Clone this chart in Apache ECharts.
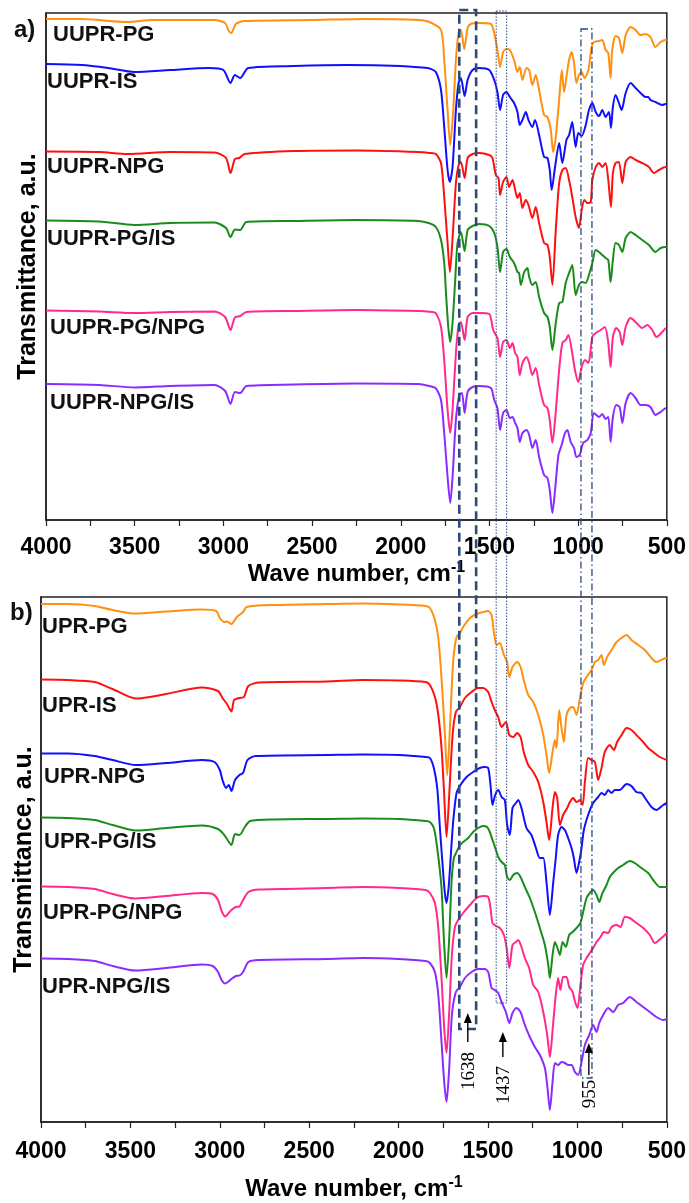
<!DOCTYPE html>
<html>
<head>
<meta charset="utf-8">
<title>FTIR spectra</title>
<script src="https://cdn.jsdelivr.net/npm/echarts@6/dist/echarts.min.js"></script>
<style>
  html, body { margin: 0; padding: 0; background: #fff; }
  #chart { width: 689px; height: 1203px; }
</style>
</head>
<body>
<div id="chart"></div>
<script>
// tick labels of the wave number axis
var xTickLabels = [4000, 3500, 3000, 2500, 2000, 1500, 1000, 500];

// panel a) [wave number, transmittance a.u. incl. offset]
var uuprPG = [[4000,501],[3800,501],[3544,498],[3400,500],[3050,500],[2990,497],[2970,489],[2955,487],[2930,496],[2880,499],[2500,500],[2200,501],[1900,500],[1839,498],
  [1773,490],[1755,460],[1736,410],[1721,375],[1704,410],[1689,460],[1674,487],[1661,490],[1642,471],[1623,492],[1605,496],[1558,497],[1492,496],[1473,487],[1455,470],[1440,453],[1423,468],[1404,471],[1385,470],[1361,460],[1342,448],[1329,453],[1314,440],[1291,452],[1276,450],[1258,435],[1239,445],[1220,430],[1192,405],[1173,403],[1154,390],[1141,368],[1126,383],[1107,420],[1092,450],[1079,428],[1066,443],[1051,460],[1036,468],[1023,457],[1010,437],[995,445],[980,448],[965,442],[942,450],[924,473],[911,478],[882,479],[864,480],[845,470],[830,467],[817,442],[808,470],[789,484],[770,482],[751,467],[732,485],[704,493],[676,490],[648,485],[620,486],[592,483],[564,473],[535,478],[507,480],[500,480]];
var uuprIS = [[4000,456],[3800,455],[3650,452],[3500,448],[3300,450],[3080,452],[3000,450],[2960,437],[2935,445],[2905,442],[2860,452],[2600,454],[2300,455],[2000,454],[1850,452],
  [1839,451.7],[1802,448],[1773,430],[1755,393],[1736,350],[1723,338],[1708,353],[1689,410],[1674,437],[1661,442],[1640,424],[1623,440],[1595,450],[1558,452],[1501,450],[1473,440],[1455,428],[1440,410],[1423,425],[1404,428],[1385,423],[1361,417],[1342,408],[1329,395],[1314,400],[1295,408],[1280,400],[1258,393],[1243,400],[1220,385],[1192,363],[1173,362],[1160,350],[1149,330],[1130,353],[1107,377],[1089,357],[1066,380],[1051,385],[1033,398],[1014,373],[999,387],[980,384],[957,395],[939,410],[920,417],[901,408],[882,404],[864,410],[845,403],[826,408],[815,392],[804,413],[789,425],[770,417],[755,410],[732,427],[704,437],[676,432],[648,427],[620,423],[605,423],[592,420],[564,418],[526,415],[507,416],[500,416]];
var uuprNPG = [[4000,368.5],[3700,368],[3540,366],[3300,368],[3050,367.5],[2985,362],[2960,347],[2935,361],[2910,362],[2880,366],[2600,369],[2250,369.5],[1900,368],
  [1839,367],[1802,366],[1773,357],[1755,323],[1736,277],[1723,248],[1704,293],[1689,337],[1674,355],[1661,358],[1640,342],[1623,362],[1595,366],[1558,367],[1501,365],[1483,362],[1464,345],[1449,342],[1440,325],[1423,338],[1404,343],[1389,333],[1370,340],[1355,330],[1342,322],[1329,327],[1314,312],[1295,320],[1280,315],[1258,302],[1239,313],[1220,297],[1192,277],[1173,275],[1160,263],[1145,235],[1126,290],[1107,337],[1089,350],[1070,352],[1051,340],[1033,323],[1014,303],[995,292],[980,310],[965,320],[948,317],[929,318],[920,340],[901,353],[882,357],[864,353],[845,357],[830,340],[815,313],[804,347],[789,357],[770,358],[751,337],[732,358],[704,363],[676,360],[639,357],[601,353],[573,347],[545,350],[507,353],[500,353]];
var uuprPGIS = [[4000,299.5],[3700,298.5],[3500,295],[3300,297],[3050,297.5],[2985,292],[2960,283],[2935,290.5],[2905,290],[2870,298],[2600,299],[2250,300],[1900,299],
  [1839,296.7],[1802,293],[1773,280],[1755,257],[1745,227],[1732,193],[1721,178],[1708,197],[1693,240],[1680,277],[1661,288],[1640,269],[1623,290],[1595,294],[1558,296],[1501,294],[1473,287],[1455,273],[1440,248],[1423,268],[1404,271],[1385,263],[1361,257],[1342,248],[1333,247],[1323,235],[1304,248],[1286,252],[1276,243],[1258,235],[1239,238],[1220,223],[1192,207],[1173,203],[1160,193],[1145,170],[1126,197],[1107,217],[1089,218],[1070,237],[1051,247],[1033,255],[1014,225],[995,235],[976,238],[957,237],[939,245],[920,257],[901,270],[882,268],[864,265],[845,262],[830,260],[817,238],[804,260],[789,277],[770,275],[751,268],[732,282],[704,288],[676,285],[639,280],[601,275],[564,268],[535,272],[507,273],[500,273]];
var uuprPGNPG = [[4000,209.5],[3700,208.5],[3500,207],[3300,208],[3050,208.5],[2990,203],[2960,190],[2935,202.5],[2905,204],[2870,208],[2600,209],[2250,210],[1900,209],
  [1839,208.3],[1802,206.7],[1773,193],[1755,160],[1736,110],[1721,87],[1708,110],[1689,167],[1674,195],[1661,198],[1640,180],[1623,203],[1595,207],[1558,207],[1501,206],[1479,190],[1455,182],[1440,163],[1423,178],[1404,180],[1385,172],[1370,177],[1355,167],[1342,163],[1329,145],[1314,157],[1291,163],[1276,157],[1258,145],[1239,152],[1220,135],[1192,115],[1173,112],[1160,100],[1145,77],[1130,100],[1107,150],[1089,177],[1070,180],[1055,185],[1036,170],[1018,150],[999,138],[980,153],[961,160],[942,157],[920,183],[901,187],[873,190],[849,193],[830,177],[817,153],[804,183],[785,192],[766,188],[751,175],[732,193],[704,202],[676,198],[639,192],[610,195],[582,190],[558,183],[526,188],[503,192],[500,192]];
var uuprNPGIS = [[4000,136],[3700,135],[3500,132.5],[3300,134],[3050,135],[2990,129],[2960,116],[2935,128],[2905,127],[2870,134],[2600,135.5],[2250,136.5],[1900,136],
  [1839,134],[1802,131.7],[1773,120],[1755,87],[1736,43],[1721,17],[1708,43],[1689,100],[1670,125],[1655,127],[1640,107],[1623,128],[1595,133],[1558,134],[1492,132],[1473,120],[1455,112],[1440,90],[1423,107],[1404,110],[1385,102],[1370,103],[1355,97],[1342,92],[1329,78],[1314,87],[1291,90],[1276,85],[1258,72],[1239,80],[1220,63],[1192,45],[1173,42],[1160,30],[1145,7],[1130,30],[1111,65],[1093,75],[1074,87],[1061,90],[1042,78],[1023,72],[1010,63],[991,65],[972,77],[948,80],[929,87],[911,107],[882,103],[864,106],[845,101],[830,103],[817,78],[804,103],[785,115],[766,113],[751,97],[732,117],[704,127],[676,122],[648,115],[620,115],[592,113],[564,105],[535,108],[503,112],[500,112]];

// panel b)
var uprPG = [[4000,518],[3850,518],[3700,516],[3600,512],[3470,508.5],[3300,510.5],[3100,512.5],[3020,511],[3000,504],[2975,500],[2960,500.5],[2935,498],[2905,505],[2870,510],[2850,515],[2700,517],[2400,518],[2200,518.5],[2000,517.5],[1850,516],
  [1825,514],[1797,502],[1778,484],[1760,444],[1741,387],[1728,347],[1713,394],[1695,460],[1676,485],[1657,489],[1639,495],[1601,504],[1564,508],[1527,510],[1499,511],[1480,507],[1467,490],[1452,477],[1434,479],[1411,467],[1393,460],[1381,445],[1363,455],[1337,460],[1318,455],[1300,442],[1275,427],[1247,420],[1219,407],[1191,387],[1173,367],[1158,349],[1139,370],[1126,382],[1117,374],[1102,412],[1089,394],[1076,380],[1061,407],[1042,414],[1024,415],[1005,407],[986,424],[968,439],[949,445],[921,452],[902,460],[884,462],[865,467],[852,457],[834,465],[809,472],[781,480],[753,484],[725,487],[698,482],[660,477],[623,472],[586,464],[558,460],[520,463],[500,464]];
var uprIS = [[4000,442.5],[3850,442],[3700,440],[3600,433],[3470,423.5],[3300,428],[3100,434.5],[3010,431],[2985,424],[2960,418],[2935,410.5],[2920,422],[2890,424],[2865,425],[2840,436],[2780,439.5],[2400,440.5],[2200,442],[2000,441.5],[1850,440],
  [1825,437],[1797,425],[1778,407],[1760,374],[1747,334],[1732,285],[1717,327],[1698,387],[1680,410],[1657,415],[1629,424],[1592,430],[1555,434],[1527,434],[1499,430],[1480,420],[1462,412],[1443,405],[1424,395],[1400,400],[1381,387],[1359,385],[1337,389],[1318,385],[1300,370],[1275,357],[1247,350],[1219,340],[1191,320],[1173,300],[1158,282],[1139,314],[1126,330],[1113,324],[1098,297],[1080,307],[1057,314],[1042,320],[1024,324],[1005,320],[986,322],[971,317],[958,340],[940,364],[921,362],[902,360],[884,342],[865,354],[847,370],[819,377],[796,372],[778,380],[753,387],[725,394],[698,392],[670,387],[632,380],[604,374],[576,370],[539,365],[500,362]];
var uprNPG = [[4000,368.5],[3850,368.5],[3700,366],[3600,362],[3470,357],[3300,359],[3100,362],[3030,360],[3000,352],[2985,342],[2965,334],[2950,337],[2935,331],[2915,342],[2890,347],[2870,349],[2845,362],[2800,366],[2400,367],[2200,367.5],[2000,367],[1850,365],
  [1825,364],[1803,354],[1784,334],[1769,294],[1756,262],[1742,230],[1732,219],[1720,235],[1709,264],[1695,300],[1676,329],[1654,337],[1620,345],[1583,350],[1546,354],[1518,355],[1499,354],[1486,337],[1475,317],[1460,327],[1443,332],[1424,325],[1406,322],[1393,297],[1378,287],[1363,314],[1344,319],[1331,322],[1313,314],[1285,294],[1257,287],[1232,274],[1210,264],[1191,264],[1173,240],[1154,207],[1135,240],[1121,264],[1108,287],[1089,295],[1070,292],[1052,284],[1033,274],[1020,264],[1005,249],[990,260],[977,274],[964,292],[940,307],[912,319],[884,325],[865,329],[847,327],[828,332],[809,329],[791,332],[763,332],[725,338],[698,336],[670,330],[642,329],[614,322],[586,315],[558,312],[520,317],[500,319]];
var uprPGIS = [[4000,304.5],[3850,304],[3700,302],[3600,297],[3470,291.5],[3300,294],[3100,296.5],[3010,293],[2975,287],[2960,283],[2935,277],[2915,288],[2890,287],[2860,295],[2830,301],[2700,302.5],[2400,303],[2200,303.5],[2000,303],[1850,301],
  [1825,300],[1803,294],[1784,274],[1760,234],[1747,184],[1732,144],[1717,184],[1704,240],[1691,264],[1676,270],[1657,277],[1639,280],[1611,284],[1583,290],[1555,294],[1527,296],[1505,295],[1490,290],[1471,280],[1452,270],[1443,265],[1424,260],[1406,257],[1393,245],[1378,242],[1359,247],[1337,249],[1318,245],[1294,235],[1266,224],[1238,210],[1210,194],[1182,177],[1163,157],[1154,144],[1139,167],[1126,180],[1113,175],[1098,167],[1083,180],[1065,175],[1046,187],[1027,190],[1005,194],[983,199],[968,210],[949,224],[931,229],[912,232],[893,227],[878,220],[860,229],[837,237],[819,245],[796,250],[772,254],[744,257],[707,261],[679,259],[642,254],[604,249],[576,242],[539,235],[500,235]];
var uprPGNPG = [[4000,235.5],[3850,235],[3700,233],[3600,228],[3470,223.5],[3300,226],[3100,229],[3040,228],[3010,222],[2990,211],[2970,205.5],[2955,208],[2935,212],[2910,215],[2890,215.5],[2870,222],[2840,230],[2780,232.5],[2400,234],[2200,235],[2000,234],[1850,232],
  [1825,229],[1797,219],[1778,194],[1760,144],[1745,94],[1732,69],[1717,110],[1702,167],[1685,195],[1667,202],[1639,209],[1601,217],[1564,224],[1527,226],[1499,225],[1486,214],[1475,199],[1456,196],[1434,194],[1411,187],[1396,174],[1381,154],[1363,177],[1344,180],[1331,182],[1313,175],[1294,164],[1270,154],[1247,137],[1219,130],[1191,110],[1169,87],[1154,65],[1135,100],[1121,127],[1108,144],[1095,132],[1080,145],[1061,145],[1046,135],[1027,130],[1013,120],[999,114],[983,137],[968,157],[949,164],[931,169],[912,174],[893,180],[871,185],[852,190],[828,189],[809,195],[781,197],[759,195],[735,205],[707,204],[670,199],[632,194],[595,187],[567,179],[530,184],[500,189]];
var uprNPGIS = [[4000,163.5],[3850,163],[3700,161],[3600,156],[3470,151.5],[3300,154],[3100,157.5],[3040,156],[3010,150],[2990,142],[2970,138.5],[2955,140],[2935,143],[2910,146],[2890,146.5],[2870,150],[2840,160],[2780,162],[2400,163],[2200,164],[2000,163],[1850,161],
  [1825,159],[1797,150],[1778,127],[1760,80],[1745,40],[1732,20],[1717,54],[1702,107],[1680,130],[1657,135],[1629,144],[1592,150],[1555,153],[1518,153],[1499,150],[1480,134],[1462,132],[1443,129],[1424,120],[1400,110],[1381,99],[1363,109],[1340,114],[1318,110],[1294,97],[1266,85],[1238,75],[1210,67],[1182,54],[1169,37],[1154,12],[1139,40],[1126,59],[1108,57],[1089,60],[1070,59],[1052,57],[1033,57],[1014,50],[996,47],[977,60],[958,77],[934,87],[912,97],[893,90],[878,99],[856,107],[828,114],[800,110],[772,117],[744,119],[707,125],[670,120],[632,115],[595,110],[558,105],[520,102],[500,103]];

var namesA = ['UUPR-PG', 'UUPR-IS', 'UUPR-NPG', 'UUPR-PG/IS', 'UUPR-PG/NPG', 'UUPR-NPG/IS'];
var namesB = ['UPR-PG', 'UPR-IS', 'UPR-NPG', 'UPR-PG/IS', 'UPR-PG/NPG', 'UPR-NPG/IS'];
var colorsA = ['#ff9010', '#1010ff', '#ff1010', '#1a8c1a', '#ff2a8a', '#8a2cff'];
var colorsB = ['#ff9010', '#ff1010', '#1010ff', '#1a8c1a', '#ff2a8a', '#8a2cff'];

// highlighted bands (wave numbers read on panel a), marked peaks (read on panel b)
var bandEdges = [[1670, 1575], [1462, 1403], [984, 922]];
var peakLabels = ['1638', '1437', '955'];
var peakArrowWave = [1613, 1417, 936];

var FONT = 'Liberation Sans, Arial, sans-serif';
var chart = echarts.init(document.getElementById('chart'));

function xAxisOf(i, margin, gap) {
  return {
    gridIndex: i, type: 'value', min: 500, max: 4000, interval: 250, inverse: true,
    axisLine: { lineStyle: { color: '#222', width: 1.5 } },
    axisTick: { inside: false, length: 6, lineStyle: { color: '#222', width: 1.2 } },
    axisLabel: {
      margin: margin, color: '#000', fontSize: 23, fontWeight: 'bold', fontFamily: FONT,
      formatter: function (v) { return xTickLabels.indexOf(v) >= 0 ? String(v) : ''; }
    },
    splitLine: { show: false },
    name: '{t|Wave number, cm}{s|-1}', nameLocation: 'middle', nameGap: gap,
    nameTextStyle: {
      rich: {
        t: { fontSize: 24, fontWeight: 'bold', color: '#000', fontFamily: FONT, lineHeight: 28 },
        s: { fontSize: 16, fontWeight: 'bold', color: '#000', fontFamily: FONT, verticalAlign: 'top', lineHeight: 16 }
      }
    }
  };
}
function yAxisOf(i, max, gap) {
  return {
    gridIndex: i, type: 'value', min: 0, max: max,
    axisLine: { show: true, lineStyle: { color: '#222', width: 1.5 } },
    axisTick: { show: false }, axisLabel: { show: false }, splitLine: { show: false },
    name: 'Transmittance, a.u.', nameLocation: 'middle', nameGap: gap,
    nameTextStyle: { fontSize: 25, fontWeight: 'bold', color: '#000', fontFamily: FONT }
  };
}

var seriesA = [uuprPG, uuprIS, uuprNPG, uuprPGIS, uuprPGNPG, uuprNPGIS];
var seriesB = [uprPG, uprIS, uprNPG, uprPGIS, uprPGNPG, uprNPGIS];
var series = [];
seriesA.forEach(function (d, k) {
  series.push({ name: namesA[k], type: 'line', xAxisIndex: 0, yAxisIndex: 0, data: d,
    showSymbol: false, smooth: 0.25, lineStyle: { width: 2, color: colorsA[k] }, itemStyle: { color: colorsA[k] } });
});
seriesB.forEach(function (d, k) {
  series.push({ name: namesB[k], type: 'line', xAxisIndex: 1, yAxisIndex: 1, data: d,
    showSymbol: false, smooth: 0.25, lineStyle: { width: 2, color: colorsB[k] }, itemStyle: { color: colorsB[k] } });
});

chart.setOption({
  animation: false,
  backgroundColor: '#fff',
  grid: [
    { left: 46, top: 13, width: 622, height: 507, show: true, borderColor: '#222', borderWidth: 1.5 },
    { left: 41, top: 597, width: 626, height: 525, show: true, borderColor: '#222', borderWidth: 1.5 }
  ],
  xAxis: [xAxisOf(0, 16, 40), xAxisOf(1, 18, 53)],
  yAxis: [yAxisOf(0, 507, 5), yAxisOf(1, 525, 4)],
  series: series
});

// annotations: positioned through the axes
function pa(w, v) { return chart.convertToPixel({ gridIndex: 0 }, [w, v]); }
function pb(w, v) { return chart.convertToPixel({ gridIndex: 1 }, [w, v]); }

var ann = '#2a4a7a';
var boxTopsA = [510, 509, 491];      // panel a units
var boxBottomsB = [93, 119, 44];     // panel b units
var boxStyles = [
  { stroke: ann, lineWidth: 2.6, lineDash: [9, 5], fill: null },
  { stroke: ann, lineWidth: 1, lineDash: [1.5, 1.5], fill: null },
  { stroke: ann, lineWidth: 1.3, lineDash: [7, 3, 1.5, 3], fill: null }
];
var graphics = [];
bandEdges.forEach(function (e, k) {
  var tl = pa(e[0], boxTopsA[k]);
  var tr = pa(e[1], boxTopsA[k]);
  var bottom = pb(1000, boxBottomsB[k])[1];
  graphics.push({ type: 'rect', z: 50, silent: true,
    shape: { x: tl[0], y: tl[1], width: tr[0] - tl[0], height: bottom - tl[1] },
    style: boxStyles[k] });
});

var arrowTipB = [109, 90, 79];
var arrowTailB = [80, 65, 47];
var labelMidB = [51, 37, 28];
peakLabels.forEach(function (t, k) {
  var tip = pb(peakArrowWave[k], arrowTipB[k]);
  var tail = pb(peakArrowWave[k], arrowTailB[k]);
  var mid = pb(peakArrowWave[k], labelMidB[k]);
  graphics.push({ type: 'line', z: 60, silent: true,
    shape: { x1: tail[0], y1: tail[1], x2: tip[0], y2: tip[1] + 6 },
    style: { stroke: '#000', lineWidth: 1.4 } });
  graphics.push({ type: 'polygon', z: 60, silent: true,
    shape: { points: [[tip[0], tip[1]], [tip[0] - 4, tip[1] + 10], [tip[0] + 4, tip[1] + 10]] },
    style: { fill: '#000' } });
  graphics.push({ type: 'text', z: 60, silent: true, x: mid[0] + 1, y: mid[1], rotation: Math.PI / 2,
    style: { text: t, font: '19px "Liberation Serif", serif', fill: '#000', align: 'center', verticalAlign: 'middle' } });
});

// panel letters and trace names
var textBold = function (txt, x, y, size) {
  return { type: 'text', z: 40, silent: true, x: x, y: y,
    style: { text: txt, font: 'bold ' + size + 'px ' + FONT, fill: '#111', verticalAlign: 'middle' } };
};
graphics.push(textBold('a)', 14, 30, 24));
graphics.push(textBold('b)', 10, 613, 24));
var labelPosA = [[53, 35], [47, 82], [47, 167], [47, 239], [50, 328], [50, 403]];
var labelPosB = [[42, 627], [42, 706], [44, 777], [44, 842], [43, 913], [42, 987]];
namesA.forEach(function (n, k) { graphics.push(textBold(n, labelPosA[k][0], labelPosA[k][1], 22)); });
namesB.forEach(function (n, k) { graphics.push(textBold(n, labelPosB[k][0], labelPosB[k][1], 22)); });

chart.setOption({ graphic: graphics });
</script>
</body>
</html>
